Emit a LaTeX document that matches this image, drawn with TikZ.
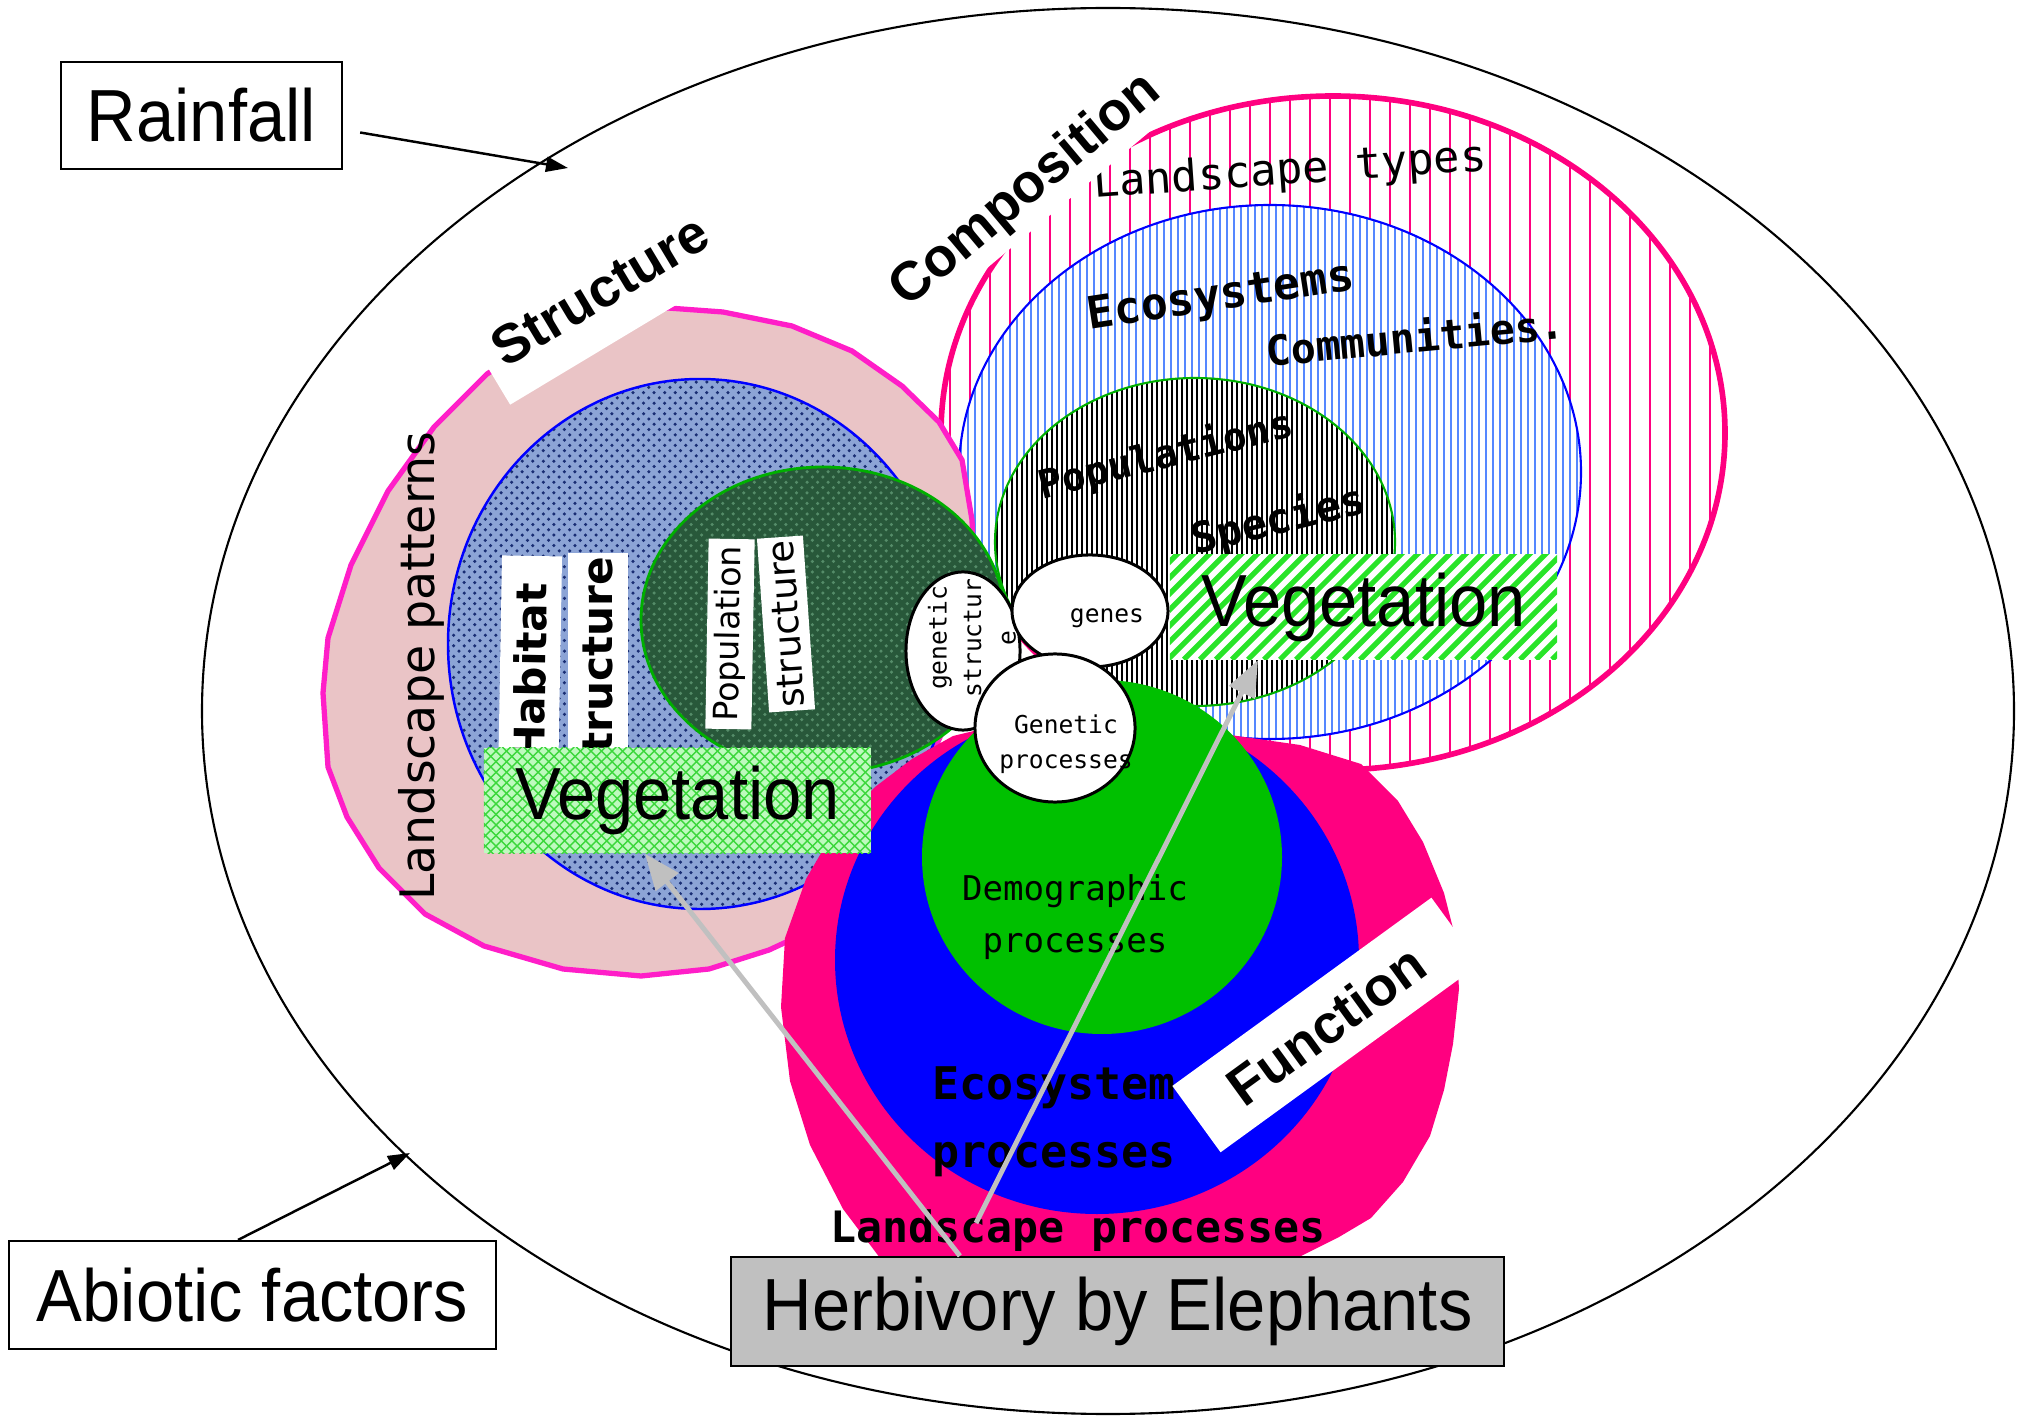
\documentclass[tikz,border=0pt]{standalone}
\usepackage{fontspec}
\usetikzlibrary{arrows.meta,patterns,shapes.geometric}
\newfontfamily\bigf{Liberation Sans}[FakeStretch=0.93]
\newfontfamily\headf{Liberation Sans}
\newfontfamily\verdf{DejaVu Sans}
\newfontfamily\monof{DejaVu Sans Mono}
\definecolor{hotpink}{RGB}{255,0,128}
\definecolor{magline}{RGB}{255,30,200}
\definecolor{rosefill}{RGB}{234,196,198}
\definecolor{habblue}{RGB}{140,164,214}
\definecolor{habdark}{RGB}{25,45,115}
\definecolor{popgreen}{RGB}{40,88,58}
\definecolor{poplight}{RGB}{85,140,105}
\definecolor{veglight}{RGB}{190,250,190}
\definecolor{vegline}{RGB}{60,215,60}
\definecolor{stripegreen}{RGB}{40,228,40}
\definecolor{compblue}{RGB}{85,135,255}
\definecolor{ringgreen}{RGB}{0,175,0}
\definecolor{demogreen}{RGB}{0,192,0}
\definecolor{elephantgray}{RGB}{192,192,192}
\tikzset{
  boxlabel/.style={draw, line width=0.6pt, inner sep=0pt, font=\bigf\fontsize{21}{25}\selectfont},
  vegbox/.style={inner sep=0pt, minimum width=3.87cm, minimum height=1.05cm, font=\bigf\fontsize{21}{25}\selectfont},
  band/.style={fill=white, inner sep=0pt, font=\headf\bfseries\fontsize{15.5}{18}\selectfont},
  tag/.style={fill=white, inner sep=0pt},
  bubble/.style={ellipse, draw, fill=white, line width=0.85pt, inner sep=0pt},
  bubtxt/.style={font=\monof\fontsize{7}{9.8}\selectfont, align=center, inner sep=0pt},
  mono/.style args={#1/#2}{font=\monof\fontsize{#1}{#2}\selectfont, align=center, inner sep=0pt},
  monob/.style args={#1/#2}{font=\monof\bfseries\fontsize{#1}{#2}\selectfont, align=center, inner sep=0pt},
  grayarrow/.style={draw=elephantgray, line width=1.4pt, -{Triangle[length=0.36cm,width=0.28cm]}},
  blackarrow/.style={draw, line width=0.7pt, -{Triangle[length=0.22cm,width=0.15cm]}}
}
\begin{document}
\begin{tikzpicture}[x=0.01cm, y=-0.01cm]
\useasboundingbox (0,0) rectangle (2021,1416);

% outer frame
\draw[line width=0.6pt] (1108,711) ellipse [x radius=906, y radius=703];

% Composition
\begin{scope}
  \clip (1333,433) ellipse [x radius=392, y radius=337];
  \foreach \x in {950,970,...,1730}
    \draw[hotpink, line width=0.5pt] (\x,90) -- (\x,775);
\end{scope}
\draw[hotpink, line width=1.6pt] (1333,433) ellipse [x radius=392, y radius=337];
\begin{scope}
  \clip (1270,472) ellipse [x radius=311, y radius=267];
  \fill[white] (955,200) rectangle (1585,745);
  \foreach \x in {961,968,...,1582}
    \draw[compblue, line width=0.55pt] (\x,200) -- (\x,745);
\end{scope}
\draw[blue, line width=0.6pt] (1270,472) ellipse [x radius=311, y radius=267];
\begin{scope}
  \clip (1195,542) ellipse [x radius=200, y radius=164];
  \fill[white] (990,370) rectangle (1400,712);
  \foreach \x in {997,1002,...,1396}
    \draw[black, line width=0.4pt] (\x,370) -- (\x,712);
\end{scope}
\draw[ringgreen, line width=0.6pt] (1195,542) ellipse [x radius=200, y radius=164];

\node[mono=12.4/15, rotate=4] (ltypes) at (1290,172) {Landscape types};
\node[monob=12.7/15, rotate=8.7] (ecosys) at (1221,298) {Ecosystems};
\node[monob=11.8/14, rotate=5.4] (commun) at (1415,336) {Communities.};
\node[monob=11.2/14, rotate=14] (popul) at (1166,456) {Populations};
\node[monob=12/14, rotate=14] (species) at (1279,521) {Species};
\node[band, rotate=40, minimum width=3.6cm, minimum height=0.68cm] (compband) at (1026,191) {Composition};

% Structure
\fill[rosefill] (668,308) -- (723,312) -- (792,326) -- (852,351) -- (902,386) -- (939,422)
  -- (962,460) -- (972,520) -- (975,600) -- (965,680) -- (930,760) -- (860,860) -- (797,937)
  -- (769,950) -- (709,969) -- (641,976) -- (563,969) -- (484,946) -- (425,914) -- (379,868)
  -- (347,817) -- (328,767) -- (323,693) -- (328,638) -- (351,565) -- (388,491) -- (434,427)
  -- (487,374) -- (540,340) -- (600,318) -- cycle;
\draw[magline, line width=1.5pt] (668,308) -- (723,312) -- (792,326) -- (852,351) -- (902,386) -- (939,422)
  -- (962,460) -- (972,520) -- (975,600) -- (965,680) -- (930,760) -- (860,860) -- (797,937)
  -- (769,950) -- (709,969) -- (641,976) -- (563,969) -- (484,946) -- (425,914) -- (379,868)
  -- (347,817) -- (328,767) -- (323,693) -- (328,638) -- (351,565) -- (388,491) -- (434,427)
  -- (487,374) -- (540,340) -- (600,318) -- cycle;
\fill[habblue, postaction={pattern=crosshatch dots, pattern color=habdark}]
  (700,644) ellipse [x radius=252, y radius=265];
\draw[blue, line width=0.7pt] (700,644) ellipse [x radius=252, y radius=265];
\fill[popgreen, postaction={pattern=crosshatch dots, pattern color=poplight}]
  (823,620) ellipse [x radius=182, y radius=153];
\draw[ringgreen, line width=0.8pt] (823,620) ellipse [x radius=182, y radius=153];

\node[tag, rotate=89, minimum width=2.32cm, minimum height=0.6cm,
  font=\verdf\bfseries\fontsize{12}{14}\selectfont] (habitat) at (530,672) {Habitat};
\node[tag, rotate=90, minimum width=2.28cm, minimum height=0.59cm,
  font=\verdf\bfseries\fontsize{12}{14}\selectfont] (habstruct) at (598,667) {structure};
\node[tag, rotate=89, minimum width=1.9cm, minimum height=0.46cm,
  font=\verdf\fontsize{9.5}{11}\selectfont] (population) at (730,634) {Population};
\node[tag, rotate=94, minimum width=1.74cm, minimum height=0.46cm,
  font=\verdf\fontsize{10.5}{12}\selectfont] (popstruct) at (786,624) {structure};
\node[rotate=90, inner sep=0pt, font=\verdf\fontsize{13.5}{15}\selectfont] (lpatterns) at (421,666) {Landscape patterns};
\node[band, rotate=31, minimum width=2.72cm, minimum height=1.04cm] (strucband) at (600,290) {Structure};

% Function
\fill[hotpink] (875,787) -- (912,759) -- (953,736) -- (1040,715) -- (1150,712) -- (1230,735)
  -- (1300,745) -- (1361,764) -- (1398,801) -- (1423,842) -- (1444,893) -- (1456,940)
  -- (1459,989) -- (1453,1044) -- (1444,1090) -- (1430,1136) -- (1403,1182) -- (1371,1218)
  -- (1339,1237) -- (1297,1258) -- (1250,1280) -- (1000,1285) -- (880,1258) -- (843,1209)
  -- (810,1145) -- (790,1081) -- (781,1007) -- (785,938) -- (806,879) -- (838,824) -- cycle;
\fill[blue] (1097,960) ellipse [x radius=262, y radius=254];
\fill[demogreen] (1102,857) ellipse [x radius=180, y radius=177];

\node[mono=9.7/15, text width=4cm] (demog) at (1075,917) {Demographic\\processes};
\node[monob=12.8/19.4, text width=4cm] (ecoproc) at (1054,1122) {Ecosystem\\processes};
\node[monob=12.3/15] (lproc) at (1078,1231) {Landscape processes};
\node[band, rotate=36, minimum width=3.2cm, minimum height=0.82cm] (funcband) at (1326,1025) {Function};

% vegetation boxes
\node[vegbox, fill=veglight, postaction={pattern=crosshatch, pattern color=vegline}] (vegL) at (677.5,800.5) {Vegetation};
\node[vegbox, fill=white, path picture={
    \foreach \i in {0,...,33}
      \draw[stripegreen, line width=1.5pt] ([xshift=\i*0.16cm-1.3cm]path picture bounding box.south west) -- ++(1.3cm,1.3cm);
  }] (vegR) at (1363.5,607) {Vegetation};

% genetic level
\node[bubble, rotate=90, minimum width=1.58cm, minimum height=1.14cm] (gstruct) at (963,651) {};
\node[bubtxt, rotate=90] (gstructtxt) at (972,638) {genetic\\structur\\e};
\node[bubble, minimum width=1.56cm, minimum height=1.12cm] (genes) at (1090,611) {};
\node[bubtxt] (genestxt) at (1107,618) {genes};
\node[bubble, minimum width=1.6cm, minimum height=1.48cm] (gproc) at (1055,728) {};
\node[bubtxt] (gproctxt) at (1066,744) {Genetic\\processes};

% drivers
\node[boxlabel, minimum width=2.81cm, minimum height=1.07cm] (rain) at (201.5,115.5) {Rainfall};
\node[boxlabel, minimum width=4.87cm, minimum height=1.08cm] (abio) at (252.5,1295) {Abiotic factors};
\node[boxlabel, fill=elephantgray, minimum width=7.73cm, minimum height=1.09cm] (herb) at (1117.5,1311.5) {Herbivory by Elephants};

\coordinate (rainTip) at (568,168);
\coordinate (abioTip) at (410,1153);
\coordinate (lpstart) at (976,1223);
\draw[blackarrow] ([shift={(17,17)}]rain.east) -- (rainTip);
\draw[blackarrow] ([xshift=-0.145cm]abio.north) -- (abioTip);
\draw[grayarrow] ([xshift=-1.575cm]herb.north) -- ([xshift=-0.325cm]vegL.south);
\draw[grayarrow] (lpstart) -- ([xshift=-1.055cm]vegR.south);
\end{tikzpicture}
\end{document}
